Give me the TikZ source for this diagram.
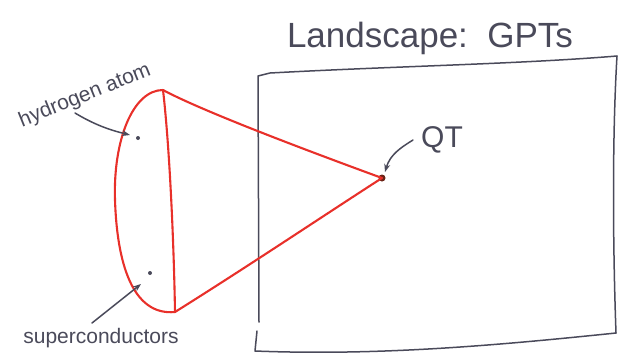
\documentclass[tikz,border=0pt]{standalone}
\usepackage{fontspec}
\setmainfont{Liberation Sans}
\usetikzlibrary{arrows.meta}
\definecolor{inkgray}{HTML}{4A4A5A}
\definecolor{penred}{HTML}{E8302A}
\definecolor{dotbrown}{HTML}{6A2418}
\begin{document}
\begin{tikzpicture}[x=1pt,y=-1pt,
  ink/.style={draw=inkgray, line width=1.5pt, line cap=round, line join=round},
  redink/.style={draw=penred, line width=2.1pt, line cap=round, line join=round},
  hand/.style={text=inkgray, inner sep=0pt},
  pointer/.style={ink, -{Stealth[length=8pt,width=6pt]}},
  pt/.style={circle, fill=inkgray, inner sep=0pt, minimum size=4pt}]
\useasboundingbox (0,0) rectangle (619,360);

% landscape frame
\draw[ink] (259,322) -- (258,76) -- (270,73)
  .. controls (400,66) and (520,64) .. (617,56);
\draw[ink] (617,56) .. controls (612,140) and (613,250) .. (616,333);
\draw[ink] (257,331) -- (255,351)
  .. controls (380,356) and (500,345) .. (616,333);
\node[hand, font=\fontsize{35}{35}\selectfont] (title) at (430,38) {Landscape:\ \ GPTs};

% theory points
\coordinate (T) at (163,90);
\coordinate (B) at (175,312);
\node[circle, fill=dotbrown, inner sep=0pt, minimum size=7pt] (qt) at (382,178) {};
\node[pt] (h) at (138,138) {};
\node[pt] (s) at (150,273) {};

% red region
\draw[redink] (T) .. controls (133,90) and (113,140) .. (115,200)
  .. controls (117,262) and (132,316) .. (B);
\draw[redink] (T) .. controls (170,150) and (174,250) .. (B);
\draw[redink] (T) .. controls (200,110) and (300,148) .. (qt.center);
\draw[redink] (B) .. controls (250,265) and (320,218) .. (qt.center);

% labels
\node[hand, font=\fontsize{21}{21}\selectfont, rotate=22] (hl) at (85,96) {hydrogen atom};
\node[hand, font=\fontsize{21}{21}\selectfont] (sl) at (101,338) {superconductors};
\node[hand, font=\fontsize{30}{30}\selectfont] (ql) at (442,140) {QT};

\coordinate (ha) at (75,113);
\coordinate (sa) at (92,323);
\coordinate (qa) at (413,140);
\draw[pointer] (ha) .. controls (95,125) and (110,130) .. (130,135);
\draw[pointer] (sa) -- (141,284);
\draw[pointer] (qa) .. controls (400,148) and (390,155) .. (385,172);
\end{tikzpicture}
\end{document}
